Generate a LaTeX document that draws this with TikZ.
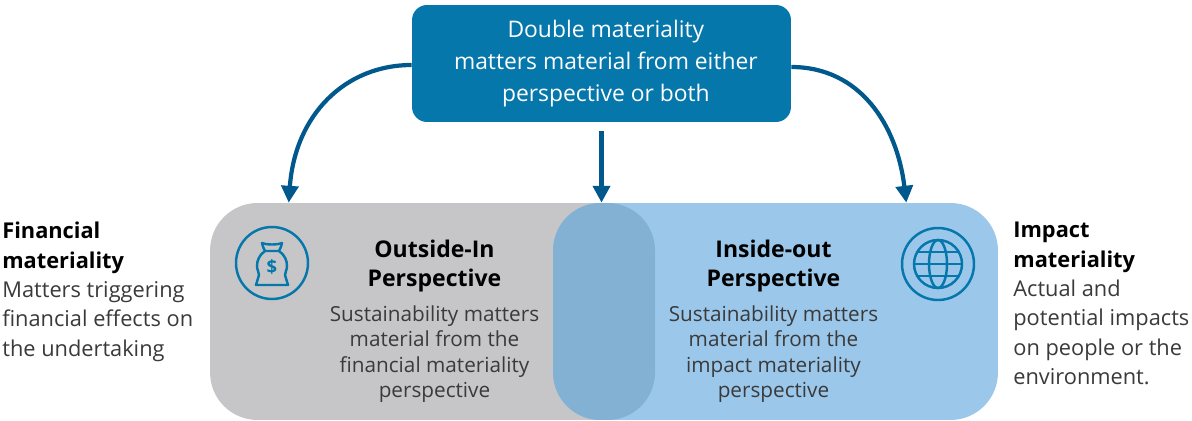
\documentclass[tikz,border=0pt]{standalone}
\usepackage{fontspec}
\setmainfont{Open Sans}
\usepackage{tikz}
\usetikzlibrary{calc}
\usetikzlibrary{arrows.meta}
\definecolor{topblue}{HTML}{0677AB}
\definecolor{darkblue}{HTML}{01588C}
\definecolor{lightgray}{HTML}{C6C6C8}
\definecolor{lightblue}{HTML}{9BC7EA}
\definecolor{midblue}{HTML}{82B1D3}
\definecolor{bodytext}{HTML}{3A3A3A}
\tikzset{
panel/.style={minimum height=4.34cm, rounded corners=0.95cm, inner sep=0pt},
link/.style={darkblue, line width=2.4pt, -{Triangle[width=9.6pt,length=9.6pt]}},
icon/.style={topblue, line width=1.4pt, line join=round, line cap=round},
title/.style={font=\fontsize{13.1}{16.8}\selectfont\bfseries, align=center, text=black},
body/.style={font=\fontsize{11.8}{14.4}\selectfont, align=center, text=bodytext},
side/.style={font=\fontsize{12.4}{16.7}\selectfont, align=left, anchor=north west, text=bodytext, inner sep=0pt}
}
\begin{document}
\begin{tikzpicture}[x=0.02cm,y=-0.02cm]
\useasboundingbox (0,0) rectangle (1192,420);
\node[panel, fill=lightgray, minimum width=8.9cm] (outside) at (432.5,311.5) {};
\node[panel, fill=lightblue, minimum width=8.9cm] (inside) at (775.5,311.5) {};
\node[panel, fill=midblue, minimum width=2.04cm] (overlap) at (604,311.5) {};
\node[fill=topblue, rounded corners=0.3cm, minimum width=7.58cm, minimum height=2.34cm, text=white, align=center, font=\fontsize{13}{18.2}\selectfont, inner sep=0pt] (double) at (601.5,63.5) {\hspace*{5pt}Double materiality\\\hspace*{5pt}matters material from either\\\hspace*{5pt}perspective or both};
\coordinate (midstart) at (601.5,131);
\draw[link] (double.west |- 0,65) .. controls (345,65) and (295,115) .. ($(outside.north west)+(79,0)$);
\draw[link] (double.east |- 0,67) .. controls (860,67) and (897,125) .. ($(inside.north east)+(-92,0)$);
\draw[link] (midstart)--(midstart |- overlap.north);
\node[title] (outtitle) at (434.5,266) {Outside-In\\Perspective};
\node[body] (outbody) at (434.5,354) {Sustainability matters\\material from the\\financial materiality\\perspective};
\node[title] (intitle) at (773.5,266) {Inside-out\\Perspective};
\node[body] (inbody) at (773.5,354) {Sustainability matters\\material from the\\impact materiality\\perspective};
\node[side] (financial) at (2,222) {\textbf{\textcolor{black}{Financial}}\\\textbf{\textcolor{black}{materiality}}\\Matters triggering\\financial effects on\\the undertaking};
\node[side] (impact) at (1013,222) {\textbf{\textcolor{black}{Impact}}\\\textbf{\textcolor{black}{materiality}}\\Actual and\\potential impacts\\on people or the\\environment.};
% money bag
\coordinate (bag) at (272,263);
\draw[icon] (bag) circle (36);
\draw[icon] ($(bag)+(-7,-12)$) .. controls ($(bag)+(-8,-15)$) and ($(bag)+(-10,-17)$) .. ($(bag)+(-10,-20)$)
 .. controls ($(bag)+(-5,-18)$) and ($(bag)+(5,-18)$) .. ($(bag)+(10,-20)$)
 .. controls ($(bag)+(10,-17)$) and ($(bag)+(8,-15)$) .. ($(bag)+(7,-12)$)--cycle;
\draw[icon] ($(bag)+(-7,-12)$) .. controls ($(bag)+(-13,-8)$) and ($(bag)+(-15,-2)$) .. ($(bag)+(-15,3)$)
 .. controls ($(bag)+(-15,7)$) and ($(bag)+(-13,9)$) .. ($(bag)+(-13,12)$)
 --($(bag)+(-16,22)$)--($(bag)+(16,22)$)--($(bag)+(13,12)$)
 .. controls ($(bag)+(13,9)$) and ($(bag)+(15,7)$) .. ($(bag)+(15,3)$)
 .. controls ($(bag)+(15,-2)$) and ($(bag)+(13,-8)$) .. ($(bag)+(7,-12)$);
\node[topblue, font=\fontsize{10.5}{11}\selectfont\bfseries, inner sep=0pt] (dollar) at (bag|-0,267) {\$};
% globe
\coordinate (globe) at (938,264);
\draw[icon] (globe) circle (36);
\draw[icon] (globe) circle (24);
\draw[icon] (globe) ellipse (9 and 24);
\draw[icon] ($(globe)+(-24,0)$)--($(globe)+(24,0)$);
\draw[icon] ($(globe)+(-21,-12)$)--($(globe)+(21,-12)$);
\draw[icon] ($(globe)+(-21,12)$)--($(globe)+(21,12)$);
\end{tikzpicture}
\end{document}
